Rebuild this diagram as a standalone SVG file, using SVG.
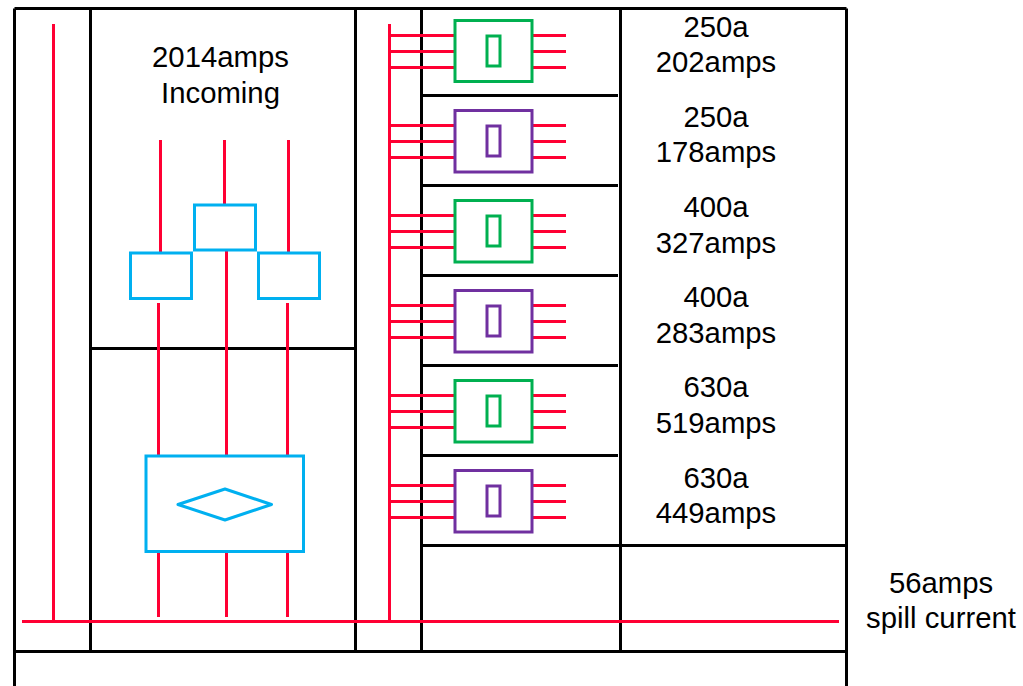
<svg xmlns="http://www.w3.org/2000/svg" xmlns:xlink="http://www.w3.org/1999/xlink" width="1023" height="686" viewBox="0 0 1023 686">
<style>
.k{stroke:#000;stroke-width:3;fill:none}
.r{stroke:#ff0033;stroke-width:3;fill:none}
.b{stroke:#00b0f0;stroke-width:3;fill:#fff}
.g{stroke:#00b050;stroke-width:3;fill:#fff}
.p{stroke:#7030a0;stroke-width:3;fill:#fff}
text{font-family:"Liberation Sans",Arial,sans-serif;font-size:29.3px;fill:#000;text-anchor:middle}
</style>
<defs>
<g id="leads"><path class="r" d="M389 35.500H454M389 51.500H454M389 67.500H454M532 35.500H566M532 51.500H566M532 67.500H566"/></g>
</defs>
<rect width="1023" height="686" fill="#fff"/>
<g id="frame">
<path class="k" d="M14.500 8.500H846.500M14.500 8.500V686M90.500 8.500V651.500M355.500 8.500V651.500M421.500 8.500V651.500M620.500 8.500V651.500M846.500 8.500V686M14.500 651.500H846.500M90.500 348.500H355.500M421.500 95.500H618M421.500 185.500H618M421.500 275.500H618M421.500 365.500H618M421.500 455.500H618M421.500 545.500H846.500"/>
</g>
<g id="connectors">
<path class="r" d="M53.500 24V621M22 621.500H839M389.500 24V621M160.500 140V253M224.500 140V205M288.500 140V253M158.500 303V456M226.500 250V456M287.500 303V456M158.500 551V617M226.500 551V617M287.500 551V617"/>
<use xlink:href="#leads"/>
<use xlink:href="#leads" y="90"/>
<use xlink:href="#leads" y="180"/>
<use xlink:href="#leads" y="270"/>
<use xlink:href="#leads" y="360"/>
<use xlink:href="#leads" y="450"/>
</g>
<g id="ct-top"><rect class="b" x="194.500" y="205" width="61" height="45"/></g>
<g id="ct-left"><rect class="b" x="130.500" y="253" width="61" height="45.500"/></g>
<g id="ct-right"><rect class="b" x="258.500" y="253" width="61" height="45.500"/></g>
<g id="meter"><rect class="b" x="146" y="456" width="157.500" height="95.500"/><polygon class="b" stroke-linejoin="round" points="178,504.500 225,489 271.500,504.500 225,520"/></g>
<g id="breaker-1"><rect class="g" x="455" y="20.500" width="77" height="61"/><rect class="g" x="487" y="36" width="13" height="30"/></g>
<g id="breaker-2"><rect class="p" x="455" y="110.500" width="77" height="61.500"/><rect class="p" x="487" y="126" width="13" height="30"/></g>
<g id="breaker-3"><rect class="g" x="455" y="200.500" width="77" height="61.500"/><rect class="g" x="487" y="216" width="13" height="30"/></g>
<g id="breaker-4"><rect class="p" x="455" y="290.500" width="77" height="61.500"/><rect class="p" x="487" y="306" width="13" height="30"/></g>
<g id="breaker-5"><rect class="g" x="455" y="380.500" width="77" height="61.500"/><rect class="g" x="487" y="396" width="13" height="30"/></g>
<g id="breaker-6"><rect class="p" x="455" y="470.500" width="77" height="61.500"/><rect class="p" x="487" y="486" width="13" height="30"/></g>
<g id="labels">
<text x="220.500" y="66.500">2014amps</text><text x="220.500" y="102.500">Incoming</text>
<text x="716" y="36.500">250a</text><text x="716" y="71.500">202amps</text>
<text x="716" y="126.500">250a</text><text x="716" y="161.500">178amps</text>
<text x="716" y="216.500">400a</text><text x="716" y="252.500">327amps</text>
<text x="716" y="306.500">400a</text><text x="716" y="342.500">283amps</text>
<text x="716" y="396.500">630a</text><text x="716" y="432.500">519amps</text>
<text x="716" y="487.500">630a</text><text x="716" y="522.500">449amps</text>
<text x="941" y="592.500">56amps</text><text x="941" y="627.500">spill current</text>
</g>
</svg>
